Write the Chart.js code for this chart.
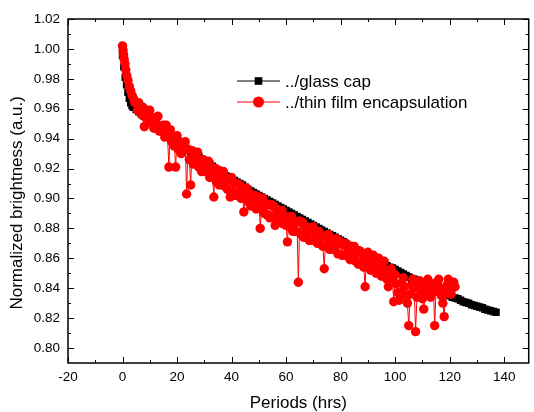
<!DOCTYPE html>
<html>
<head>
<meta charset="utf-8">
<script src="https://cdn.jsdelivr.net/npm/chart.js@4.4.1/dist/chart.umd.min.js"></script>
<style>
  html, body { margin: 0; padding: 0; background: #fff; }
  #wrap { width: 534px; height: 412px; }
</style>
</head>
<body>
<div id="wrap"><canvas id="brightnessChart"></canvas></div>
<script>
const xTicks = [-20, 0, 20, 40, 60, 80, 100, 120, 140];
const yTicks = [0.80, 0.82, 0.84, 0.86, 0.88, 0.90, 0.92, 0.94, 0.96, 0.98, 1.00, 1.02];
const seriesNames = ['../glass cap', '../thin film encapsulation'];

// glass cap (black squares), hours
const glassX = [0, 0.5, 1, 1.5, 2, 2.5, 3, 3.5, 4,
    5, 6, 7, 8, 9, 10, 11, 12, 13, 14, 15, 16, 17, 18, 19, 20,
    21, 22, 23, 24, 25, 26, 27, 28, 29, 30, 31, 32, 33, 34, 35, 36,
    37, 38, 39, 40, 41, 42, 43, 44, 45, 46, 47, 48, 49, 50, 51, 52,
    53, 54, 55, 56, 57, 58, 59, 60, 61, 62, 63, 64, 65, 66, 67, 68,
    69, 70, 71, 72, 73, 74, 75, 76, 77, 78, 79, 80, 81, 82, 83, 84,
    85, 86, 87, 88, 89, 90, 91, 92, 93, 94, 95, 96, 97, 98, 99, 100,
    101, 102, 103, 104, 105, 106, 107, 108, 109, 110, 111, 112, 113, 114, 115, 116,
    117, 118, 119, 120, 121, 122, 123, 124, 125, 126, 127, 128, 129, 130, 131, 132,
    133, 134, 135, 136, 137];
const glassY = [0.996, 0.988, 0.981, 0.976, 0.971, 0.967, 0.964, 0.962, 0.961,
    0.9595, 0.958, 0.9565, 0.955, 0.9535, 0.952, 0.9505, 0.949, 0.9475, 0.946, 0.9445, 0.943, 0.9415, 0.940, 0.939, 0.938,
    0.9365, 0.935, 0.9335, 0.932, 0.931, 0.930, 0.929, 0.928, 0.9265, 0.925, 0.924, 0.923, 0.9215, 0.920, 0.919, 0.918,
    0.9165, 0.915, 0.914, 0.913, 0.912, 0.911, 0.910, 0.909, 0.9075, 0.906, 0.905, 0.904, 0.903, 0.902, 0.901, 0.900,
    0.899, 0.898, 0.897, 0.896, 0.895, 0.894, 0.893, 0.892, 0.891, 0.890, 0.889, 0.888, 0.887, 0.886, 0.885, 0.884,
    0.883, 0.882, 0.881, 0.880, 0.879, 0.878, 0.877, 0.876, 0.875, 0.874, 0.873, 0.872, 0.871, 0.8695, 0.8685, 0.8675,
    0.8665, 0.8655, 0.8645, 0.8635, 0.8625, 0.8615, 0.8605, 0.8595, 0.859, 0.858, 0.857, 0.856, 0.855, 0.854, 0.8535, 0.8525,
    0.8515, 0.8505, 0.8495, 0.8485, 0.8475, 0.8465, 0.846, 0.845, 0.844, 0.843, 0.842, 0.841, 0.840, 0.8395, 0.839, 0.838,
    0.837, 0.8365, 0.836, 0.835, 0.834, 0.8335, 0.833, 0.832, 0.831, 0.8305, 0.830, 0.829, 0.8285, 0.828, 0.8275, 0.827,
    0.826, 0.8255, 0.825, 0.8245, 0.824];

// thin film encapsulation (red circles), hours
const tfeX = [0, 0.2, 0.4, 0.6, 0.9, 1.2, 1.6, 2.0, 2.5, 3.0, 3.5, 4.0, 4.5,
    5, 5.5, 6, 6.5, 7, 7.5, 8, 8.5, 9, 9.5,
    10, 10.5, 11, 11.5, 12, 12.5, 13, 13.5, 14, 14.5,
    15, 15.5, 16, 16.5, 17, 17.5, 18, 18.5, 19, 19.5,
    20, 20.5, 21, 21.5, 22, 22.5, 23, 23.5, 24, 24.5,
    25, 25.5, 26, 26.5, 27, 27.5, 28, 28.5, 29, 29.5,
    30, 30.5, 31, 31.5, 32, 32.5, 33, 33.5, 34, 34.5,
    35, 35.5, 36, 36.5, 37, 37.5, 38, 38.5, 39, 39.5,
    40, 40.5, 41, 41.5, 42, 42.5, 43, 43.5, 44, 44.5,
    45, 45.5, 46, 46.5, 47, 47.5, 48, 48.5, 49, 49.5,
    50, 50.5, 51, 51.5, 52, 52.5, 53, 53.5, 54, 54.5,
    55, 55.5, 56, 56.5, 57, 57.5, 58, 58.5, 59, 59.5,
    60, 60.5, 61, 61.5, 62, 62.5, 63, 63.5, 64, 64.5,
    65, 65.5, 66, 66.5, 67, 67.5, 68, 68.5, 69, 69.5,
    70, 70.5, 71, 71.5, 72, 72.5, 73, 73.5, 74, 74.5,
    75, 75.5, 76, 76.5, 77, 77.5, 78, 78.5, 79, 79.5,
    80, 80.5, 81, 81.5, 82, 82.5, 83, 83.5, 84, 84.5,
    85, 85.5, 86, 86.5, 87, 87.5, 88, 88.5, 89, 89.5,
    90, 90.5, 91, 91.5, 92, 92.5, 93, 93.5, 94, 94.5,
    95, 95.5, 96, 96.5, 97, 97.5, 98, 98.5, 99, 99.5,
    100, 100.5, 101, 101.5, 102, 102.5, 103, 103.5, 104, 104.5,
    105, 105.5, 106, 106.5, 107, 107.5, 108, 108.5, 109, 109.5,
    110, 110.5, 111, 111.5, 112, 112.5, 113, 113.5, 114, 114.5,
    115, 115.5, 116, 116.5, 117, 117.5, 118, 118.5, 119, 119.5,
    120, 120.5, 121, 121.5, 122];
const tfeY = [1.002, 0.999, 0.996, 0.993, 0.990, 0.986, 0.982, 0.979, 0.975, 0.972, 0.969, 0.967, 0.964,
    0.964, 0.959, 0.964, 0.959, 0.956, 0.961, 0.948, 0.954, 0.959, 0.955,
    0.959, 0.951, 0.954, 0.947, 0.954, 0.950, 0.955, 0.945, 0.948, 0.945,
    0.949, 0.941, 0.949, 0.942, 0.921, 0.946, 0.938, 0.941, 0.935, 0.921,
    0.942, 0.933, 0.938, 0.930, 0.937, 0.932, 0.938, 0.903, 0.933, 0.926,
    0.909, 0.932, 0.923, 0.929, 0.923, 0.931, 0.921, 0.925, 0.918, 0.926,
    0.918, 0.925, 0.919, 0.925, 0.914, 0.921, 0.915, 0.901, 0.920, 0.911,
    0.919, 0.909, 0.916, 0.910, 0.918, 0.908, 0.912, 0.906, 0.913, 0.901,
    0.914, 0.904, 0.910, 0.902, 0.910, 0.904, 0.909, 0.900, 0.905, 0.891,
    0.901, 0.907, 0.898, 0.904, 0.895, 0.902, 0.896, 0.902, 0.893, 0.898,
    0.901, 0.880, 0.893, 0.900, 0.890, 0.896, 0.889, 0.896, 0.887, 0.896,
    0.888, 0.895, 0.882, 0.893, 0.884, 0.890, 0.885, 0.892, 0.883, 0.887,
    0.882, 0.871, 0.888, 0.881, 0.888, 0.878, 0.884, 0.878, 0.884, 0.844,
    0.885, 0.876, 0.884, 0.874, 0.880, 0.875, 0.881, 0.872, 0.879, 0.872,
    0.881, 0.872, 0.877, 0.870, 0.878, 0.871, 0.875, 0.868, 0.853, 0.875,
    0.869, 0.876, 0.866, 0.872, 0.866, 0.873, 0.867, 0.873, 0.863, 0.870,
    0.871, 0.862, 0.869, 0.862, 0.870, 0.863, 0.866, 0.859, 0.868, 0.860,
    0.868, 0.858, 0.864, 0.856, 0.865, 0.857, 0.863, 0.854, 0.841, 0.862,
    0.864, 0.858, 0.852, 0.857, 0.862, 0.856, 0.850, 0.855, 0.860, 0.854,
    0.848, 0.853, 0.858, 0.852, 0.846, 0.841, 0.847, 0.853, 0.846, 0.831,
    0.849, 0.843, 0.837, 0.832, 0.837, 0.843, 0.847, 0.841, 0.835, 0.830,
    0.815, 0.836, 0.842, 0.846, 0.840, 0.811, 0.834, 0.840, 0.845, 0.839,
    0.833, 0.826, 0.835, 0.841, 0.846, 0.840, 0.834, 0.838, 0.843, 0.815,
    0.838, 0.844, 0.846, 0.840, 0.835, 0.830, 0.821, 0.836, 0.842, 0.846,
    0.841, 0.836, 0.840, 0.844, 0.841];

const FONT = "'Liberation Sans', Arial, sans-serif";

const toPoints = (xs, ys) => xs.map((x, i) => ({ x, y: ys[i] }));

const midpoints = (vals) => vals.slice(1).map((v, i) => (v + vals[i]) / 2);

// frame with inward ticks on all four sides
const boxTicks = {
    id: 'boxTicks',
    afterDatasetsDraw(chart) {
        const { ctx, chartArea: a, scales: { x, y } } = chart;
        ctx.save();
        ctx.strokeStyle = '#000';
        ctx.lineWidth = 1;
        ctx.beginPath();
        const xMark = (v, len) => {
            const p = Math.round(x.getPixelForValue(v)) + 0.5;
            ctx.moveTo(p, a.bottom); ctx.lineTo(p, a.bottom - len);
            ctx.moveTo(p, a.top);    ctx.lineTo(p, a.top + len);
        };
        const yMark = (v, len) => {
            const p = Math.round(y.getPixelForValue(v)) + 0.5;
            ctx.moveTo(a.left, p);  ctx.lineTo(a.left + len, p);
            ctx.moveTo(a.right, p); ctx.lineTo(a.right - len, p);
        };
        xTicks.forEach(v => xMark(v, 6));
        midpoints(xTicks).forEach(v => xMark(v, 3));
        yTicks.forEach(v => yMark(v, 6));
        midpoints(yTicks).forEach(v => yMark(v, 3));
        ctx.stroke();
        ctx.lineWidth = 1.5;
        ctx.strokeRect(a.left, a.top, a.right - a.left, a.bottom - a.top);
        ctx.restore();
    }
};

// legend box: line with marker in the middle, like the original plot
const insideLegend = {
    id: 'insideLegend',
    afterDraw(chart) {
        const { ctx } = chart;
        ctx.save();
        chart.data.datasets.forEach((ds, i) => {
            const yy = 81 + i * 21;
            ctx.strokeStyle = ds.borderColor;
            ctx.lineWidth = 1;
            ctx.beginPath();
            ctx.moveTo(237, yy); ctx.lineTo(280, yy);
            ctx.stroke();
            ctx.fillStyle = ds.pointBackgroundColor;
            Chart.helpers.drawPoint(ctx, {
                pointStyle: ds.pointStyle, radius: ds.pointStyle === 'rect' ? 5.4 : 5.5,
                rotation: 0, borderWidth: 0
            }, 258.5, yy);
            ctx.fillStyle = '#000';
            ctx.font = `17px ${FONT}`;
            ctx.textBaseline = 'middle';
            ctx.fillText(seriesNames[i], 285, yy + 1);
        });
        ctx.restore();
    }
};

new Chart(document.getElementById('brightnessChart').getContext('2d'), {
    type: 'scatter',
    data: {
        datasets: [
            {
                label: seriesNames[0],
                data: toPoints(glassX, glassY),
                showLine: true,
                borderColor: '#000',
                borderWidth: 1,
                pointStyle: 'rect',
                pointRadius: 5.3,
                pointBorderWidth: 0,
                pointBackgroundColor: '#000',
                order: 1
            },
            {
                label: seriesNames[1],
                data: toPoints(tfeX, tfeY),
                showLine: true,
                borderColor: '#ff0000',
                borderWidth: 1,
                pointStyle: 'circle',
                pointRadius: 4.7,
                pointBorderWidth: 0,
                pointBackgroundColor: '#ff0000',
                order: 0
            }
        ]
    },
    options: {
        responsive: true,
        maintainAspectRatio: false,
        animation: false,
        layout: { padding: { left: 0, right: 1, top: 19, bottom: 0 } },
        plugins: {
            legend: { display: false },
            tooltip: { enabled: false }
        },
        scales: {
            x: {
                type: 'linear',
                min: -20,
                max: 149,
                afterBuildTicks: s => { s.ticks = xTicks.map(v => ({ value: v })); },
                afterFit: s => { s.height = 49; },
                grid: { display: false, drawTicks: false },
                border: { display: false },
                ticks: { color: '#000', padding: 6, font: { family: FONT, size: 13.5 } },
                title: {
                    display: true,
                    text: 'Periods (hrs)',
                    color: '#000',
                    padding: { top: 0, bottom: 0 },
                    font: { family: FONT, size: 17, lineHeight: 1 }
                }
            },
            y: {
                min: 0.79,
                max: 1.02,
                afterBuildTicks: s => { s.ticks = yTicks.map(v => ({ value: v })); },
                afterFit: s => { s.width = 68; },
                grid: { display: false, drawTicks: false },
                border: { display: false },
                ticks: {
                    color: '#000', padding: 8, font: { family: FONT, size: 13.5 },
                    callback: v => v.toFixed(2)
                },
                title: {
                    display: true,
                    text: 'Normalized brightness (a.u.)\u00a0\u00a0\u00a0\u00a0\u00a0',
                    color: '#000',
                    padding: { top: 8.5, bottom: 0 },
                    font: { family: FONT, size: 17, lineHeight: 1 }
                }
            }
        }
    },
    plugins: [boxTicks, insideLegend]
});
</script>
</body>
</html>
